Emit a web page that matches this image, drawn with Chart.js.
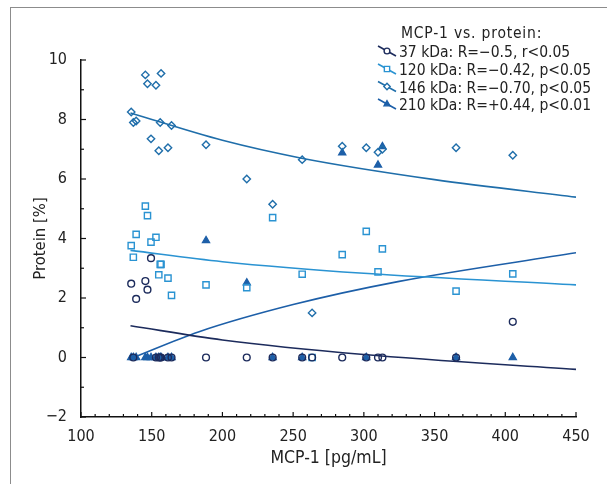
<!DOCTYPE html>
<html><head><meta charset="utf-8">
<script src="https://cdn.jsdelivr.net/npm/chart.js@4.4.0/dist/chart.umd.min.js"></script>
<style>
html,body{margin:0;padding:0;background:#fff;}
#wrap{position:relative;width:607px;height:484px;overflow:hidden;}
#frame{position:absolute;left:10px;top:7px;width:700px;height:600px;border-left:1.5px solid #8c8c8c;border-top:1.5px solid #8c8c8c;}
canvas{position:absolute;left:0;top:0;}
</style></head>
<body><div id="wrap"><div id="frame"></div><canvas id="c" width="607" height="484"></canvas></div>
<script>
// ---- data ----
const mcp1 = [135.5,137,139,145.5,147,149.5,153,155,156,156.6,161.5,164,188.4,217.2,235.5,256.4,263.4,284.7,301.7,310,313.1,365.2,405.3];
const p37  = [2.48,0,1.97,2.57,2.28,3.34,0,0,0,0,0,0,0,0,0,0,0,0,0,0,0,0,1.2];
const p120 = [3.76,3.37,4.14,5.09,4.77,3.88,4.04,2.78,3.13,3.13,2.67,2.09,2.44,2.35,4.70,2.80,0,3.46,4.24,2.88,3.65,2.23,2.81];
const p146 = [8.25,7.9,7.95,9.5,9.2,7.35,9.15,6.95,7.9,9.55,7.05,7.8,7.15,6.0,5.15,6.65,1.5,7.1,7.05,6.9,7.0,7.05,6.8];
const p210 = [0,0,0,0,0,0,0,0,0,0,0,0,3.93,2.51,0,0,null,6.88,0,6.47,7.09,0,0];

const fit37X  = [135,200,300,450],      fit37Y  = [1.07,0.59,0.10,-0.40];
const fit120X = [135,200,300,450],      fit120Y = [3.60,3.22,2.83,2.44];
const fit146X = [135,200,256,350,450],  fit146Y = [8.22,7.30,6.70,5.98,5.39];
const fit210X = [137,183,250,325,450],  fit210Y = [0,0.86,1.78,2.56,3.52];

const xTicks = [100,150,200,250,300,350,400,450];
const yTicks = [-2,0,2,4,6,8,10];

const legendTitle = 'MCP-1 vs. protein:';
const legendLabels = ['37 kDa: R=\u22120.5, r<0.05','120 kDa: R=\u22120.42, p<0.05','146 kDa: R=\u22120.70, p<0.05','210 kDa: R=+0.44, p<0.01'];
const xTitle = 'MCP-1 [pg/mL]';
const yTitle = 'Protein [%]';

// ---- styles ----
const FONT = "'Liberation Sans Narrow','DejaVu Sans Condensed','Roboto Condensed',sans-serif";
const C37='#1c2b5c', C120='#2a93d2', C146='#1f6eaa', C210='#1d5fa8';
const styles = [
  {color:C37, pointStyle:'circle', radius:3.4, bw:1.4, fill:false},
  {color:C120, pointStyle:'rect', radius:4.4, bw:1.4, fill:false},
  {color:C146, pointStyle:'rectRot', radius:3.7, bw:1.4, fill:false},
  {color:C210, pointStyle:'triangle', radius:4.2, bw:1.2, fill:true}
];
const pts = (xs, ys) => xs.map((x,i)=>({x, y: ys[i]})).filter(p=>p.y!==null && p.y!==undefined);
const series = [p37,p120,p146,p210];
const fits = [[fit37X,fit37Y],[fit120X,fit120Y],[fit146X,fit146Y],[fit210X,fit210Y]];

const datasets = [];
fits.forEach((f,i)=>{
  datasets.push({data:pts(f[0],f[1]), showLine:true, pointRadius:0, borderColor:styles[i].color,
    borderWidth:1.6, cubicInterpolationMode:'monotone', fill:false, order:2});
});
series.forEach((s,i)=>{
  const st=styles[i];
  datasets.push({data:pts(mcp1,s), showLine:false, pointStyle:st.pointStyle, pointRadius:st.radius,
    pointBorderWidth:st.bw, pointBorderColor:st.color,
    pointBackgroundColor: st.fill ? st.color : 'rgba(255,255,255,0)', order:1});
});

function drawMarker(ctx, st, x, y){
  ctx.save();
  ctx.strokeStyle=st.color; ctx.fillStyle=st.color; ctx.lineWidth=st.bw;
  const r=st.radius;
  ctx.beginPath();
  if(st.pointStyle==='circle'){ ctx.arc(x,y,r,0,Math.PI*2); }
  else if(st.pointStyle==='rect'){ const s=Math.SQRT1_2*r; ctx.rect(x-s,y-s,2*s,2*s); }
  else if(st.pointStyle==='rectRot'){ ctx.moveTo(x-r,y); ctx.lineTo(x,y-r); ctx.lineTo(x+r,y); ctx.lineTo(x,y+r); ctx.closePath(); }
  else { ctx.moveTo(x,y-r); ctx.lineTo(x+r*0.87,y+r*0.5); ctx.lineTo(x-r*0.87,y+r*0.5); ctx.closePath(); }
  if(st.fill) ctx.fill(); else { ctx.fillStyle='#fff'; ctx.fill(); }
  ctx.stroke();
  ctx.restore();
}

const extras = {
  id:'extras',
  afterDraw(chart){
    const ctx=chart.ctx, xs=chart.scales.x, ys=chart.scales.y;
    const a=chart.chartArea;
    ctx.save();
    ctx.strokeStyle='#111'; ctx.lineWidth=1.2;
    // x ticks (inward)
    for(let v=100; v<=450; v+=10){
      const px=xs.getPixelForValue(v); const len=(v%50===0)?5:3;
      ctx.beginPath(); ctx.moveTo(px,a.bottom); ctx.lineTo(px,a.bottom-len); ctx.stroke();
    }
    for(let v=-2; v<=10; v+=1){
      const py=ys.getPixelForValue(v); const len=(v%2===0)?5:3;
      ctx.beginPath(); ctx.moveTo(a.left,py); ctx.lineTo(a.left+len,py); ctx.stroke();
    }
    // axis titles
    ctx.fillStyle='#222';
    ctx.font='17.5px '+FONT; ctx.textAlign='center'; ctx.textBaseline='middle';
    ctx.fillText(xTitle,(a.left+a.right)/2,458);
    ctx.font='16.5px '+FONT;
    ctx.save(); ctx.translate(41,(a.top+a.bottom)/2); ctx.rotate(-Math.PI/2);
    ctx.fillText(yTitle,0,0); ctx.restore();
    // legend
    ctx.font='15.5px '+FONT; ctx.textAlign='left'; ctx.textBaseline='middle';
    ctx.save(); try{ ctx.letterSpacing='0.8px'; }catch(e){}
    ctx.fillText(legendTitle,401,34);
    ctx.restore();
    ctx.font='15.5px '+FONT; ctx.textAlign='left'; ctx.textBaseline='middle';
    const rows=[52,70,87.5,105];
    legendLabels.forEach((t,i)=>{
      const y=rows[i], st=styles[i];
      ctx.fillStyle='#222';
      ctx.fillText(t,399,y+1);
      ctx.strokeStyle=st.color; ctx.lineWidth=1.6;
      ctx.beginPath(); ctx.moveTo(378,y-6); ctx.lineTo(396,y+4); ctx.stroke();
      drawMarker(ctx,{...st,radius:st.radius*0.85},387,y-1);
    });
    ctx.restore();
  }
};

new Chart(document.getElementById('c'),{
  type:'scatter',
  data:{datasets},
  options:{
    responsive:false, animation:false, devicePixelRatio:1,
    layout:{padding:{top:60,right:31,left:0,bottom:0}},
    plugins:{legend:{display:false},tooltip:{enabled:false}},
    scales:{
      x:{type:'linear',min:100,max:450,
        afterBuildTicks(s){ s.ticks=xTicks.map(v=>({value:v})); },
        afterFit(s){ s.height=67; },
        grid:{display:false}, border:{display:true,color:'#111',width:1.5},
        ticks:{color:'#222',font:{family:FONT,size:16},padding:2,maxRotation:0,autoSkip:false}},
      y:{type:'linear',min:-2,max:10,
        afterBuildTicks(s){ s.ticks=yTicks.map(v=>({value:v})); },
        afterFit(s){ s.width=81; },
        grid:{display:false}, border:{display:true,color:'#111',width:1.5},
        ticks:{color:'#222',font:{family:FONT,size:16},padding:6,autoSkip:false,
          callback:v=> v<0 ? '\u2212'+Math.abs(v) : String(v)}}
    }
  },
  plugins:[extras]
});
</script>
</body></html>
